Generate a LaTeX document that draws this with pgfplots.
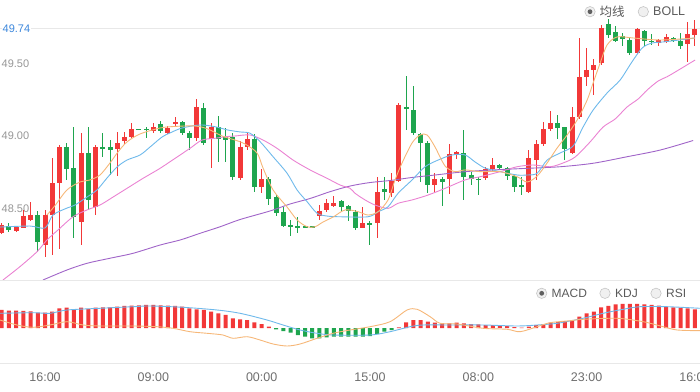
\documentclass[border=0pt]{standalone}
\usepackage{pgfplots}
\pgfplotsset{compat=1.18}
\usepackage{pgfplotstable}
\usepackage{fontspec}
\setmainfont{Liberation Sans}
\newfontfamily\cjk{Noto Sans CJK SC}
\definecolor{cred}{RGB}{242,56,56}
\definecolor{cgreen}{RGB}{30,165,78}
\definecolor{ma5}{RGB}{246,183,120}
\definecolor{ma10}{RGB}{110,185,235}
\definecolor{ma20}{RGB}{234,130,210}
\definecolor{ma60}{RGB}{160,100,200}
\definecolor{lblgray}{RGB}{150,150,150}
\definecolor{timegray}{RGB}{110,110,110}
\definecolor{leggray}{RGB}{90,90,90}
\definecolor{pricebl}{RGB}{60,135,220}
\definecolor{sepgray}{RGB}{232,232,232}

\pgfplotstableread{
i o h l c
0 48.333 48.400 48.324 48.386
2 48.345 48.379 48.338 48.370
3 48.368 48.490 48.363 48.448
4 48.421 48.547 48.414 48.455
6 48.248 48.490 48.166 48.455
7 48.455 48.846 48.179 48.674
8 48.678 48.938 48.221 48.926
11 48.409 49.019 48.248 48.885
13 48.512 48.938 48.455 48.926
16 48.908 49.030 48.724 48.954
17 48.968 49.030 48.945 48.995
18 48.995 49.088 48.984 49.046
21 49.037 49.092 49.019 49.064
23 49.023 49.069 49.014 49.053
24 49.086 49.129 49.064 49.099
27 48.984 49.253 48.966 49.202
29 48.977 49.092 48.777 49.064
33 48.708 48.968 48.697 48.926
34 48.926 49.019 48.903 48.977
36 48.650 48.770 48.605 48.701
44 48.448 48.524 48.421 48.485
45 48.490 48.563 48.478 48.540
46 48.519 48.586 48.512 48.536
50 48.363 48.512 48.363 48.398
52 48.402 48.715 48.294 48.616
54 48.609 48.743 48.577 48.692
55 48.692 49.230 48.685 49.214
60 48.662 48.743 48.616 48.701
62 48.701 48.945 48.600 48.876
63 48.869 48.899 48.839 48.892
67 48.708 48.788 48.697 48.770
68 48.770 48.846 48.761 48.800
73 48.616 48.903 48.605 48.846
74 48.834 48.972 48.697 48.945
75 48.945 49.099 48.931 49.046
76 49.046 49.174 49.037 49.092
79 48.881 49.198 48.876 49.133
80 49.129 49.674 49.115 49.405
81 49.409 49.605 49.345 49.455
82 49.455 49.529 49.283 49.490
83 49.506 49.766 49.490 49.743
88 49.570 49.743 49.566 49.736
91 49.639 49.667 49.621 49.662
92 49.650 49.703 49.639 49.685
95 49.634 49.788 49.512 49.703
96 49.697 49.800 49.621 49.740
}\redc

\pgfplotstableread{
i o h l c
1 48.379 48.398 48.340 48.352
5 48.455 48.483 48.202 48.271
9 48.926 48.950 48.697 48.772
10 48.777 49.064 48.294 48.443
12 48.881 49.064 48.490 48.559
14 48.922 49.023 48.857 48.908
15 48.921 48.972 48.731 48.903
19 49.046 49.050 49.040 49.044
20 49.048 49.060 48.984 49.044
22 49.083 49.103 49.021 49.037
25 49.099 49.106 49.007 49.023
26 49.023 49.034 48.903 48.986
28 49.191 49.230 48.938 48.950
30 49.060 49.138 48.823 48.977
31 48.995 49.053 48.823 48.972
32 48.995 49.021 48.697 48.719
35 48.977 49.014 48.616 48.646
37 48.701 48.719 48.524 48.563
38 48.581 48.593 48.448 48.467
39 48.478 48.512 48.374 48.379
40 48.386 48.421 48.310 48.370
41 48.376 48.443 48.333 48.372
42 48.374 48.376 48.372 48.374
43 48.374 48.376 48.372 48.374
47 48.554 48.559 48.478 48.512
48 48.517 48.524 48.416 48.485
49 48.478 48.490 48.352 48.363
51 48.402 48.414 48.248 48.384
53 48.632 48.719 48.559 48.616
56 49.200 49.414 49.041 49.191
57 49.179 49.345 49.007 49.023
58 49.014 49.021 48.685 48.950
59 48.954 48.966 48.605 48.662
61 48.701 48.719 48.517 48.685
64 48.881 49.041 48.559 48.719
65 48.731 48.754 48.662 48.701
66 48.703 48.719 48.593 48.699
69 48.800 48.807 48.766 48.777
70 48.777 48.788 48.697 48.724
71 48.724 48.731 48.616 48.650
72 48.662 48.719 48.593 48.650
77 49.092 49.145 48.977 49.053
78 49.060 49.064 48.834 48.908
84 49.772 49.805 49.674 49.697
85 49.719 49.759 49.650 49.657
86 49.690 49.708 49.621 49.667
87 49.662 49.674 49.559 49.570
89 49.726 49.731 49.621 49.657
90 49.657 49.703 49.628 49.648
93 49.674 49.681 49.650 49.657
94 49.657 49.708 49.598 49.621
}\greenc

\begin{document}
\begin{tikzpicture}
\useasboundingbox (0pt,0pt) rectangle (700pt,391pt);
\begin{axis}[name=main, at={(0pt,111pt)}, anchor=south west, scale only axis,
  width=700pt, height=280pt,
  xmin=-0.235, xmax=96.7, ymin=48.0069, ymax=49.9379,
  axis line style={draw=none}, tick style={draw=none},
  xtick=\empty,
  ytick={48.5,49,49.5}, yticklabels={48.50,49.00,49.50},
  yticklabel style={anchor=west, inner sep=0pt, xshift=1.5pt,
    font=\fontsize{11}{13}\selectfont, text=lblgray},
  extra y ticks={49.74}, extra y tick labels={49.74},
  extra y tick style={grid=major, major grid style={draw=sepgray, line width=0.8pt},
    yticklabel style={text=pricebl, fill=white, inner sep=1pt}},
  /pgf/number format/assume math mode=true,
]
% wicks
\addplot[draw=none, mark=none, forget plot,
  error bars/.cd, y dir=both, y explicit, error mark=none,
  error bar style={draw=cred, line width=1pt}]
  table[x=i, y expr={(\thisrow{h}+\thisrow{l})/2}, y error expr={(\thisrow{h}-\thisrow{l})/2}]{\redc};
\addplot[draw=none, mark=none, forget plot,
  error bars/.cd, y dir=both, y explicit, error mark=none,
  error bar style={draw=cgreen, line width=1pt}]
  table[x=i, y expr={(\thisrow{h}+\thisrow{l})/2}, y error expr={(\thisrow{h}-\thisrow{l})/2}]{\greenc};
% bodies
\addplot[draw=none, mark=none, forget plot,
  error bars/.cd, y dir=both, y explicit, error mark=none,
  error bar style={draw=cred, line width=5pt}]
  table[x=i, y expr={(\thisrow{o}+\thisrow{c})/2}, y error expr={max(abs(\thisrow{c}-\thisrow{o})/2,0.003)}]{\redc};
\addplot[draw=none, mark=none, forget plot,
  error bars/.cd, y dir=both, y explicit, error mark=none,
  error bar style={draw=cgreen, line width=5pt}]
  table[x=i, y expr={(\thisrow{o}+\thisrow{c})/2}, y error expr={max(abs(\thisrow{c}-\thisrow{o})/2,0.003)}]{\greenc};
% MA lines
\addplot[ma60, line width=0.9pt, smooth, mark=none] coordinates {
(5.72,48.007)(9.04,48.076)(11.81,48.122)(15.0,48.157)(18.19,48.191)(21.93,48.248)(24.72,48.283)(27.47,48.329)(30.24,48.374)(33.01,48.424)(37.16,48.483)(39.93,48.531)(42.7,48.569)(45.47,48.616)(48.24,48.655)(51.0,48.679)(53.78,48.693)(56.83,48.714)(60.01,48.731)(64.17,48.754)(68.05,48.766)(72.76,48.777)(77.33,48.788)(81.9,48.812)(86.6,48.857)(91.18,48.903)(95.75,48.969)};
\addplot[ma20, line width=0.9pt, smooth, mark=none] coordinates {
(0.18,48.007)(2.53,48.099)(4.89,48.202)(6.27,48.283)(7.8,48.352)(9.88,48.443)(11.81,48.490)(13.61,48.524)(15.42,48.579)(17.35,48.639)(19.57,48.708)(21.93,48.777)(24.28,48.855)(26.08,48.915)(27.74,48.972)(29.54,48.984)(30.93,48.995)(32.31,49.0)(34.39,49.007)(36.19,48.972)(38.13,48.915)(40.35,48.834)(42.7,48.766)(45.06,48.708)(46.86,48.662)(48.24,48.639)(48.93,48.605)(50.32,48.559)(51.7,48.524)(53.5,48.501)(54.89,48.536)(56.83,48.559)(59.05,48.593)(61.4,48.639)(64.17,48.697)(66.25,48.719)(69.02,48.754)(71.37,48.788)(73.59,48.8)(75.94,48.788)(77.74,48.814)(79.4,48.855)(81.48,48.959)(83.28,49.062)(84.94,49.117)(86.6,49.2)(88.13,49.255)(89.38,49.317)(90.9,49.379)(92.15,49.409)(93.26,49.441)(96.02,49.524)};
\addplot[ma10, line width=0.9pt, smooth, mark=none] coordinates {
(-0.24,48.372)(3.92,48.379)(6.0,48.366)(7.1,48.455)(9.04,48.503)(10.15,48.524)(11.81,48.579)(13.2,48.628)(14.58,48.710)(15.97,48.786)(17.35,48.834)(19.16,48.869)(20.54,48.924)(22.2,48.993)(23.31,49.021)(24.97,49.055)(27.47,49.076)(29.54,49.064)(31.34,49.041)(33.01,49.028)(34.39,49.019)(35.78,48.961)(37.58,48.857)(39.52,48.743)(40.9,48.628)(42.29,48.547)(43.67,48.467)(45.06,48.448)(46.86,48.443)(50.73,48.443)(52.12,48.478)(53.5,48.512)(54.89,48.605)(56.83,48.697)(58.63,48.788)(60.43,48.834)(62.37,48.869)(64.17,48.869)(65.55,48.821)(66.94,48.779)(69.02,48.754)(71.37,48.731)(72.76,48.731)(74.15,48.743)(75.53,48.834)(77.33,48.883)(79.13,48.931)(80.51,49.062)(81.9,49.179)(83.84,49.297)(85.64,49.386)(87.17,49.503)(88.69,49.607)(90.07,49.641)(91.87,49.650)(96.02,49.676)};
\addplot[ma5, line width=0.9pt, smooth, mark=none] coordinates {
(6.27,48.455)(7.38,48.52)(9.04,48.628)(10.84,48.683)(12.23,48.697)(13.61,48.731)(15.0,48.814)(16.11,48.890)(17.35,48.959)(19.16,49.014)(21.93,49.055)(24.0,49.066)(26.77,49.069)(28.57,49.048)(30.51,49.0)(32.31,48.972)(33.7,48.945)(35.36,48.883)(36.19,48.779)(37.58,48.628)(39.52,48.510)(40.9,48.421)(42.29,48.374)(43.39,48.374)(44.5,48.407)(45.89,48.441)(47.55,48.490)(49.35,48.478)(50.73,48.455)(52.12,48.478)(53.5,48.559)(54.47,48.697)(55.44,48.814)(56.83,48.952)(57.94,49.007)(58.91,49.007)(60.01,48.924)(61.4,48.793)(62.78,48.754)(64.17,48.766)(66.25,48.754)(69.02,48.754)(71.37,48.719)(72.76,48.683)(74.15,48.724)(75.53,48.814)(76.91,48.917)(78.3,49.007)(79.68,49.110)(81.07,49.248)(81.9,49.366)(82.87,49.503)(83.84,49.628)(85.22,49.683)(87.44,49.676)(91.18,49.662)(96.02,49.676)};
\end{axis}

\begin{axis}[name=lower, at={(0pt,28pt)}, anchor=south west, scale only axis,
  width=700pt, height=83pt,
  xmin=-0.235, xmax=96.7, ymin=-35, ymax=48,
  axis line style={draw=none}, tick style={draw=none},
  ytick=\empty,
  xtick={6,21,36,51,66,81,96},
  xticklabels={16:00,09:00,00:00,15:00,08:00,23:00,16:00},
  xticklabel style={font=\fontsize{12.5}{14}\selectfont, text=timegray, anchor=center, yshift=-14pt},
]
\addplot[ybar, bar width=4pt, bar shift=0pt, fill=cred, draw=none] coordinates {
(0,18)(1,17.3)(2,17.3)(3,17)(4,16.7)(5,15.3)(6,15.3)(7,16.3)(8,19.7)(9,20.3)(10,18.7)(11,20.3)(12,19)(13,20.3)(14,20.7)(15,20.7)(16,21.3)(17,22)(18,22.3)(19,22.7)(20,23)(21,23)(22,22.7)(23,22.3)(24,22)(25,21.3)(26,19.7)(27,18.7)(28,18)(29,16.3)(30,14.7)(31,13)(32,9.7)(33,8.7)(34,8)(35,5.7)(36,4)(37,1.3)
(55,0.7)(56,5.7)(57,8)(58,8)(59,6.3)(60,5.3)(61,4.7)(62,4.7)(63,5.3)(64,4.7)(65,4)(66,3.7)(67,3)(68,3)(69,2.3)(70,2)(71,1)(72,0.5)(73,1.3)(74,3)(75,4)(76,5.3)(77,6)(78,7)(79,7.3)(80,11.3)(81,14.7)(82,16.3)(83,20.7)(84,22)(85,23.7)(86,24)(87,24)(88,24)(89,23.7)(90,23)(91,22.3)(92,21.3)(93,20.7)(94,20.3)(95,19.7)(96,18.7)};
\addplot[ybar, bar width=4pt, bar shift=0pt, fill=cgreen, draw=none] coordinates {
(38,-1.3)(39,-3)(40,-4.7)(41,-7)(42,-8.7)(43,-10.3)(44,-10.3)(45,-9.3)(46,-8.7)(47,-8.7)(48,-8.7)(49,-8.7)(50,-8.7)(51,-8)(52,-6)(53,-3.7)(54,-2)};
\addplot[ma10, line width=0.9pt, smooth, mark=none] coordinates {
(-0.24,14.7)(4.34,15.3)(6.69,14.7)(9.04,18)(13.61,19.7)(18.19,21.3)(20.54,22)(25.11,20.7)(29.82,18)(33.01,14.7)(36.74,8)(38.96,3)(41.32,-2)(43.67,-5.3)(45.89,-7)(51.01,-7)(53.78,-3.7)(56.55,1.3)(58.35,3)(62.09,3)(66.66,3)(71.37,2)(74.14,3)(76.91,4.7)(80.51,9.7)(83.28,14.7)(86.05,18.7)(88.41,21.3)(92.15,21.3)(96.72,19.7)};
\addplot[ma5, line width=0.9pt, smooth, mark=none] coordinates {
(-0.24,8)(2.12,3)(4.34,0.7)(6.69,3)(9.04,6.3)(11.26,3)(13.61,2)(18.19,2)(21.51,1.3)(23.73,-0.3)(26.08,-3.7)(28.44,-5.3)(30.65,-7)(32.04,-10.3)(33.98,-8.7)(35.78,-12)(37.58,-16)(39.52,-18)(41.32,-16)(43.67,-10.3)(45.89,-5.3)(48.24,-2)(51.01,1.3)(53.78,6.3)(56.14,18)(57.53,18.7)(59.33,11.3)(60.71,4.7)(63.07,4)(66.66,-0.3)(69.99,-1.3)(71.79,-3.7)(74.14,1.3)(75.94,5.3)(78.71,7.3)(80.51,8.7)(85.22,9.7)(88.83,6.3)(91.6,1.3)(93.54,-2)(96.72,-2.7)};
\end{axis}

\draw[sepgray, line width=0.8pt] (lower.north west) -- (lower.north east);
\draw[sepgray, line width=0.8pt] (lower.south west) -- (lower.south east);

% legend radios (top)
\fill[gray!12] (590pt,379.3pt) circle (5.2pt); \draw[gray!45, line width=0.6pt] (590pt,379.3pt) circle (5.2pt);
\fill[gray!75!black] (590pt,379.3pt) circle (2.4pt);
\node[anchor=west, inner sep=0pt, text=leggray, font=\cjk\fontsize{12.5}{14}\selectfont] at (599.5pt,379.3pt) {均线};
\fill[gray!12] (643.3pt,379.3pt) circle (5.2pt); \draw[gray!45, line width=0.6pt] (643.3pt,379.3pt) circle (5.2pt);
\node[anchor=west, inner sep=0pt, text=leggray, font=\fontsize{12.5}{14}\selectfont] at (653pt,379.3pt) {BOLL};
% legend radios (MACD panel)
\fill[gray!12] (541.7pt,97.7pt) circle (5.2pt); \draw[gray!45, line width=0.6pt] (541.7pt,97.7pt) circle (5.2pt);
\fill[gray!75!black] (541.7pt,97.7pt) circle (2.4pt);
\node[anchor=west, inner sep=0pt, text=leggray, font=\fontsize{12}{14}\selectfont] at (551.5pt,97.7pt) {MACD};
\fill[gray!12] (605pt,97.7pt) circle (5.2pt); \draw[gray!45, line width=0.6pt] (605pt,97.7pt) circle (5.2pt);
\node[anchor=west, inner sep=0pt, text=leggray, font=\fontsize{12}{14}\selectfont] at (615pt,97.7pt) {KDJ};
\fill[gray!12] (656pt,97.7pt) circle (5.2pt); \draw[gray!45, line width=0.6pt] (656pt,97.7pt) circle (5.2pt);
\node[anchor=west, inner sep=0pt, text=leggray, font=\fontsize{12}{14}\selectfont] at (666pt,97.7pt) {RSI};
\end{tikzpicture}
\end{document}
